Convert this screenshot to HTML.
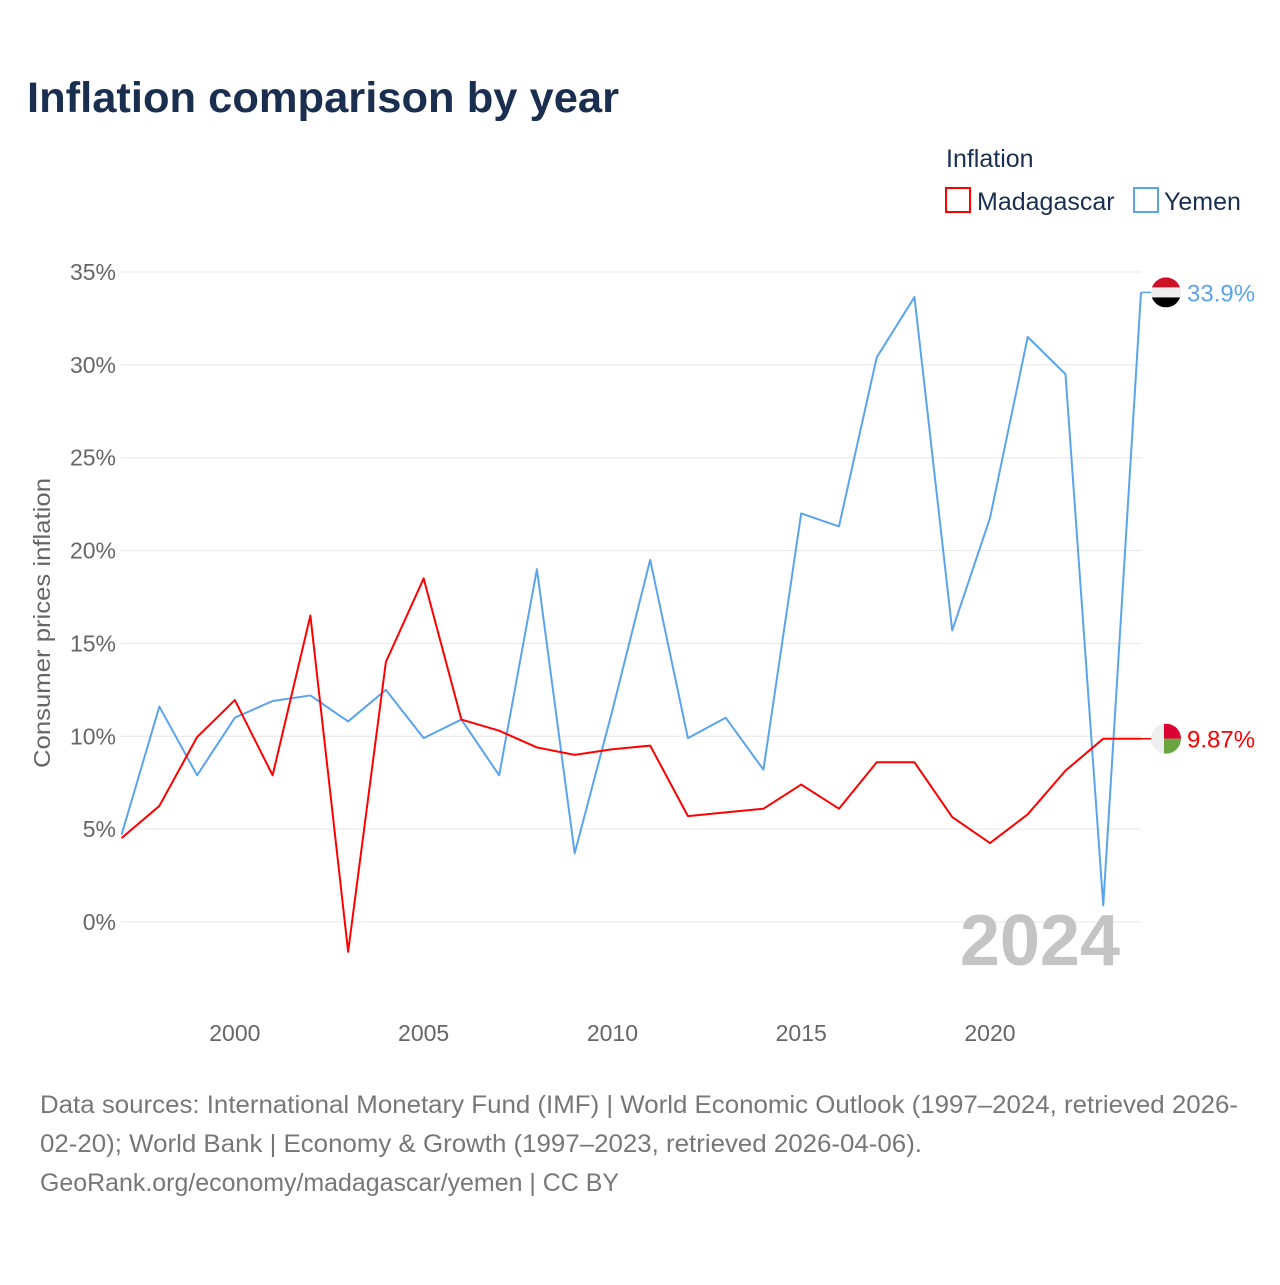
<!DOCTYPE html>
<html><head><meta charset="utf-8"><style>
body{margin:0;background:#fff;font-family:"Liberation Sans",sans-serif;}
</style></head><body>
<svg width="1280" height="1280" xmlns="http://www.w3.org/2000/svg" id="chart" style="font-family:'Liberation Sans',sans-serif">
<text x="27" y="112" font-size="43" font-weight="bold" fill="#1a2e50" textLength="592" lengthAdjust="spacingAndGlyphs">Inflation comparison by year</text>
<text x="946" y="167" font-size="25" fill="#1a2e50">Inflation</text>
<g><rect x="946" y="188" width="24" height="24" fill="none" stroke="#ff0000" stroke-width="2"/><text x="977" y="210" font-size="25" fill="#1a2e50">Madagascar</text></g>
<g><rect x="1134" y="188" width="24" height="24" fill="none" stroke="#5ba4ec" stroke-width="2"/><text x="1164" y="210" font-size="25" fill="#1a2e50">Yemen</text></g>
<text transform="translate(50,623) rotate(-90)" text-anchor="middle" font-size="23" fill="#666" textLength="290" lengthAdjust="spacingAndGlyphs">Consumer prices inflation</text>
<g id="grid"></g><g id="lines"></g>
<text x="1120" y="965" text-anchor="end" font-size="72" font-weight="bold" fill="#c4c4c4">2024</text>
<text x="40" y="1113" font-size="25" fill="#777" textLength="1198" lengthAdjust="spacingAndGlyphs">Data sources: International Monetary Fund (IMF) | World Economic Outlook (1997–2024, retrieved 2026-</text>
<text x="40" y="1152" font-size="25" fill="#777" textLength="882" lengthAdjust="spacingAndGlyphs">02-20); World Bank | Economy &amp; Growth (1997–2023, retrieved 2026-04-06).</text>
<text x="40" y="1191" font-size="25" fill="#777" textLength="579" lengthAdjust="spacingAndGlyphs">GeoRank.org/economy/madagascar/yemen | CC BY</text>
</svg>
<script>
const years=[1997,1998,1999,2000,2001,2002,2003,2004,2005,2006,2007,2008,2009,2010,2011,2012,2013,2014,2015,2016,2017,2018,2019,2020,2021,2022,2023,2024];
const madagascar=[4.52,6.25,9.96,11.95,7.9,16.5,-1.6,14.0,18.5,10.9,10.3,9.4,9.0,9.3,9.5,5.7,5.9,6.1,7.4,6.1,8.6,8.6,5.65,4.25,5.8,8.15,9.87,9.87];
const yemen=[4.7,11.6,7.9,11.0,11.9,12.2,10.8,12.5,9.9,10.9,7.9,19.0,3.7,11.4,19.5,9.9,11.0,8.2,22.0,21.3,30.4,33.65,15.7,21.75,31.5,29.5,0.9,33.9];
const yTicks=[0,5,10,15,20,25,30,35];
const xTicks=[2000,2005,2010,2015,2020];
const NS="http://www.w3.org/2000/svg";
const X=v=>121.6+(v-1997)*(1141-121.6)/27;
const Y=v=>922-v*650/35;
function mk(t,a,p){const e=document.createElementNS(NS,t);for(const k in a)e.setAttribute(k,a[k]);p.appendChild(e);return e;}
const g=document.getElementById('grid'),L=document.getElementById('lines');
yTicks.forEach(t=>{
 const l=mk('line',{x1:121,x2:1141,y1:Y(t),y2:Y(t),stroke:'#e6e6e6','stroke-width':1},g);
 
 
 const tx=mk('text',{x:116,y:Y(t)+8,'text-anchor':'end','font-size':23,fill:'#666'},g);
 tx.textContent=t+'%';
 
 
});
xTicks.forEach(t=>{
 const tx=mk('text',{x:X(t),y:1041,'text-anchor':'middle','font-size':23,fill:'#666'},g);
 tx.textContent=t;
 
 
});
function series(vals,col,name,label){
 const pts=vals.map((v,i)=>X(years[i])+','+Y(v)).join(' ');
 const p=mk('polyline',{points:pts,fill:'none',stroke:col,'stroke-width':2,'stroke-linejoin':'round'},L);
 
 
 const last=vals[vals.length-1],ly=Y(last);
 mk('line',{x1:X(years[years.length-1]),x2:1152,y1:ly,y2:ly,stroke:col,'stroke-width':1.5},L);
 const t=mk('text',{x:1187,y:ly+9,'font-size':24,fill:col},L);
 t.textContent=label;
 
 
 return ly;
}
const ym=series(yemen,'#5ba4ec','yemen','33.9%');
const md=series(madagascar,'#ff0000','madagascar','9.87%');
const fy=mk('g',{},L);


const cpy=mk('clipPath',{id:'cy'},fy);mk('circle',{cx:1166,cy:ym,r:15},cpy);
const gy=mk('g',{'clip-path':'url(#cy)'},fy);
mk('rect',{x:1150,y:ym-15,width:32,height:10,fill:'#ce1126'},gy);
mk('rect',{x:1150,y:ym-5,width:32,height:10,fill:'#eee'},gy);
mk('rect',{x:1150,y:ym+5,width:32,height:10,fill:'#000'},gy);
const fm=mk('g',{},L);


const cp=mk('clipPath',{id:'cm'},fm);mk('circle',{cx:1166,cy:md,r:15},cp);
const gm=mk('g',{'clip-path':'url(#cm)'},fm);
mk('rect',{x:1150,y:md-15,width:14,height:30,fill:'#eee'},gm);
mk('rect',{x:1164,y:md-15,width:19,height:15,fill:'#dc0032'},gm);
mk('rect',{x:1164,y:md,width:19,height:15,fill:'#6aa43e'},gm);
</script>
</body></html>
